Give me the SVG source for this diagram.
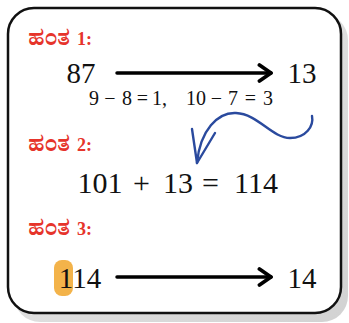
<svg xmlns="http://www.w3.org/2000/svg" width="349" height="323" viewBox="0 0 349 323">
<style>
.step{font-family:"Noto Serif Kannada","Noto Sans Kannada","Liberation Serif",serif;font-weight:bold;font-size:21px;fill:#e6342b}
.stepn{font-family:"Liberation Serif","DejaVu Serif",serif;font-weight:bold;font-size:18px;fill:#e6342b}
.num{font-family:"Liberation Serif","DejaVu Serif",serif;font-size:29px;fill:#111;text-anchor:middle}
.big{font-family:"Liberation Serif","DejaVu Serif",serif;font-size:30px;fill:#111;text-anchor:middle}
.small{font-family:"Liberation Serif","DejaVu Serif",serif;font-size:20px;fill:#111;text-anchor:middle}
.arr{stroke:#000;stroke-width:3.5;fill:none;stroke-linecap:round}
.blue{fill:none;stroke:#2a4a9e;stroke-width:2.4;stroke-linecap:round;stroke-linejoin:round}
</style>
<defs>
<marker id="head" viewBox="0 0 10 10" refX="8" refY="5" markerWidth="6" markerHeight="6" orient="auto" markerUnits="strokeWidth">
<path d="M2.5,1.2 L8,5 L2.5,8.8" fill="none" stroke="#000" stroke-width="1.8" stroke-linecap="round" stroke-linejoin="round"/>
</marker>
<linearGradient id="sh" x1="0" y1="0" x2="1" y2="1">
<stop offset="0" stop-color="#ebebeb"/>
<stop offset="1" stop-color="#d2d2d2"/>
</linearGradient>
</defs>
<rect x="0" y="0" width="349" height="323" fill="#fff"/>
<rect x="14" y="14" width="334" height="308" rx="26" fill="url(#sh)"/>
<rect x="8" y="8" width="333" height="305" rx="26" fill="#fff" stroke="#111" stroke-width="2.5"/>
<g id="step1">
<text x="28" y="45"><tspan class="step">ಹಂತ</tspan><tspan class="stepn" x="77">1:</tspan></text>
<text class="num" x="81" y="83">87</text>
<text class="num" x="302" y="83">13</text>
<text class="small" y="105"><tspan x="94">9</tspan><tspan x="110">−</tspan><tspan x="127">8</tspan><tspan x="142.5">=</tspan><tspan x="159.5">1,</tspan><tspan x="196">10</tspan><tspan x="216.5">−</tspan><tspan x="233">7</tspan><tspan x="250.5">=</tspan><tspan x="268">3</tspan></text>
</g>
<g id="step2">
<text x="28" y="151"><tspan class="step">ಹಂತ</tspan><tspan class="stepn" x="77">2:</tspan></text>
<text class="big" y="193"><tspan x="100">101</tspan><tspan x="141.5">+</tspan><tspan x="178">13</tspan><tspan x="210.5">=</tspan><tspan x="256">114</tspan></text>
</g>
<g id="step3">
<text x="28" y="235"><tspan class="step">ಹಂತ</tspan><tspan class="stepn" x="77">3:</tspan></text>
<rect x="54" y="260" width="19" height="36" rx="8" fill="#f3b34a"/>
<text class="num" x="80" y="288">114</text>
<text class="num" x="302" y="288">14</text>
</g>
<g id="connectors">
<line class="arr" x1="117" y1="73" x2="271" y2="73" marker-end="url(#head)"/>
<line class="arr" x1="117" y1="277" x2="271" y2="277" marker-end="url(#head)"/>
<path class="blue" d="M312,116 C314,126 306,138 290,138 C272,138 258,114 236,113 C218,112 200,130 197,163"/>
<path class="blue" d="M192,129 L197,163 L215,133"/>
</g>
</svg>
